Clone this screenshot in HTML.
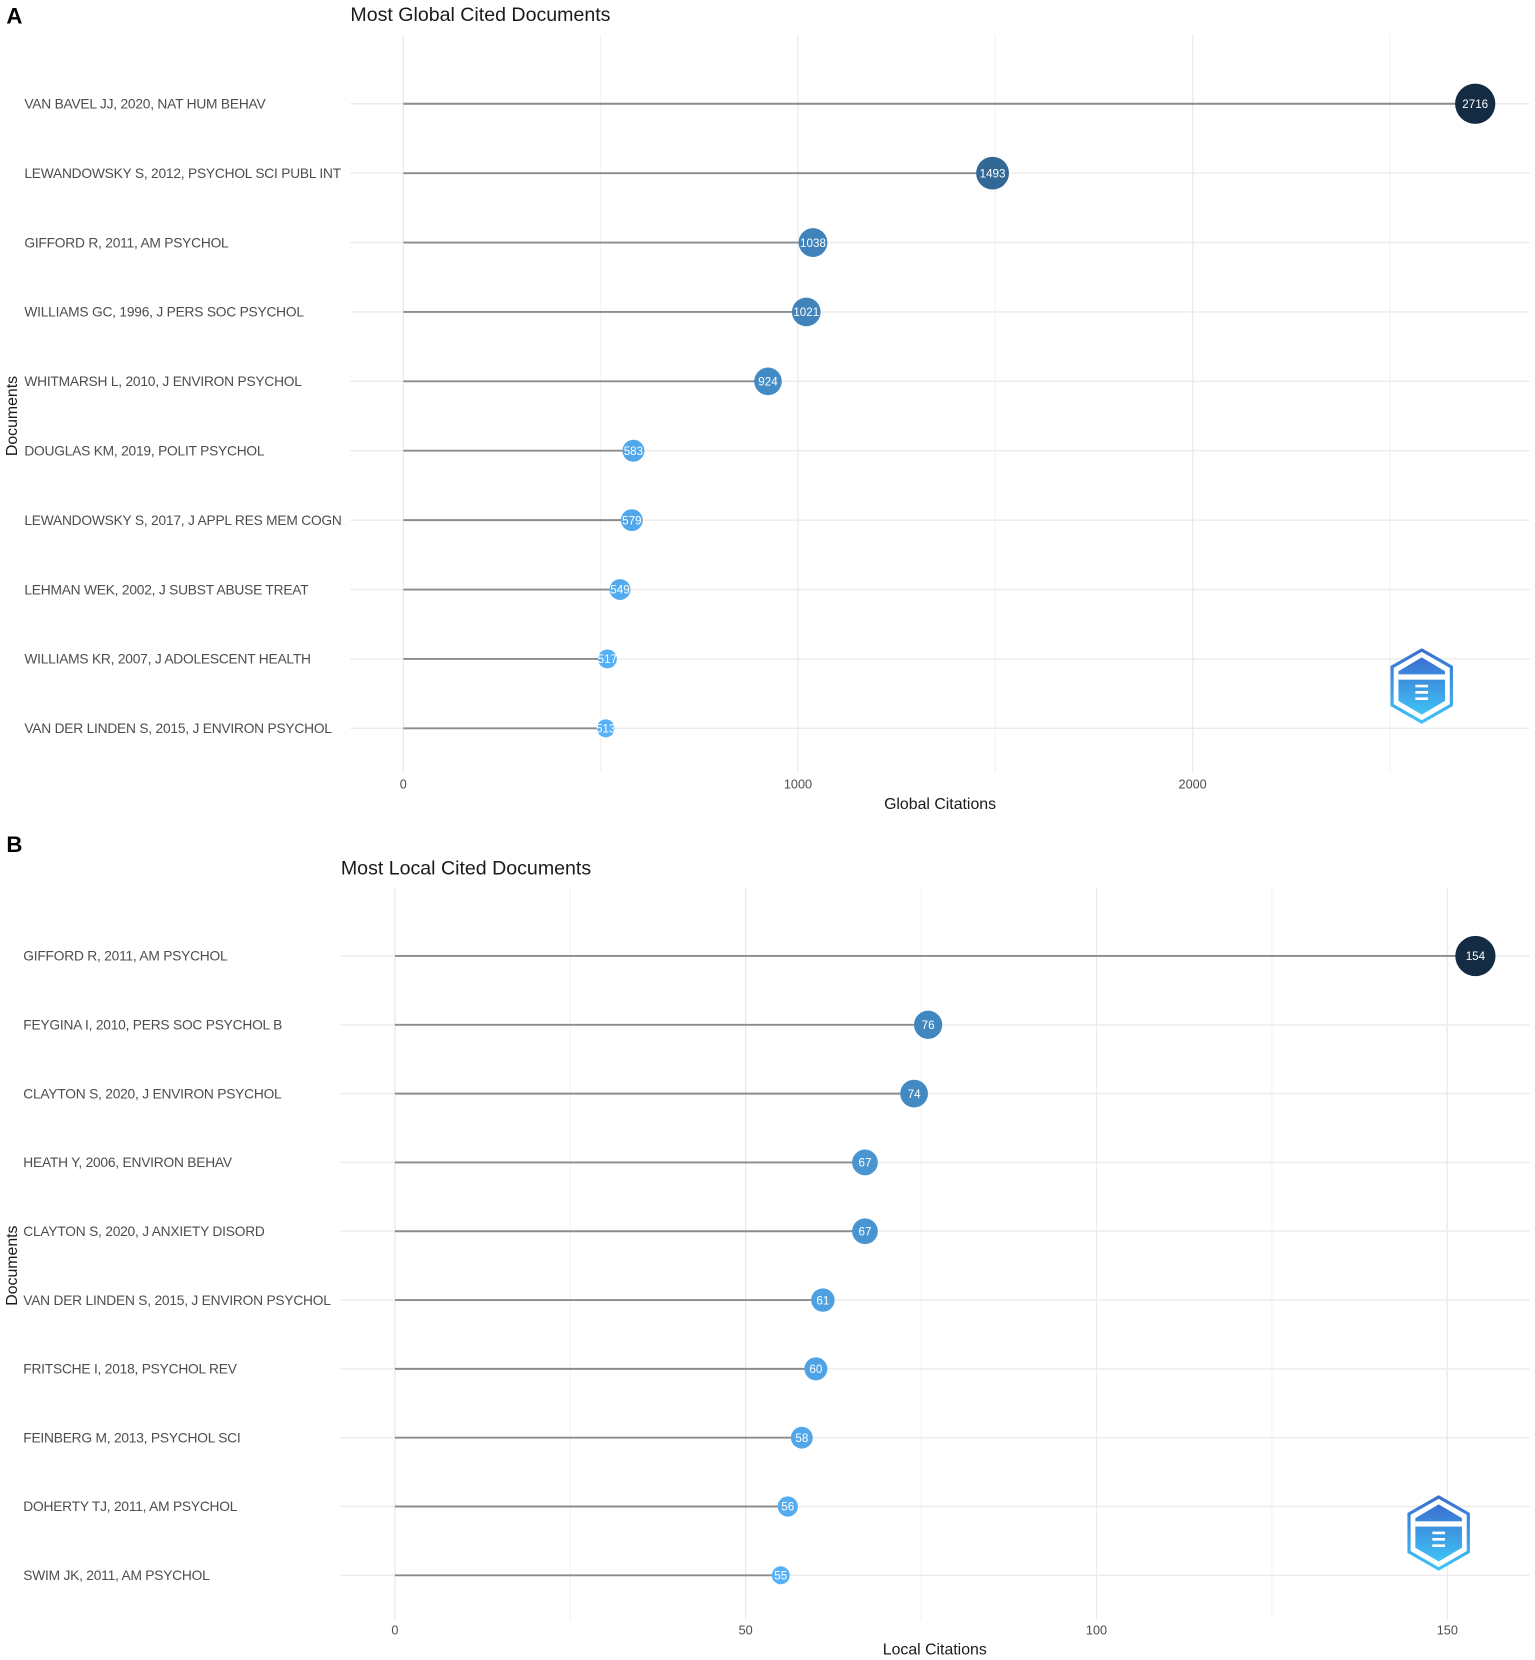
<!DOCTYPE html>
<html><head><meta charset="utf-8">
<style>
html,body{margin:0;padding:0;background:#fff;}
svg{display:block;font-family:"Liberation Sans",sans-serif;}
</style></head>
<body>
<svg id="chart" width="1535" height="1660" viewBox="0 0 1450 1568" preserveAspectRatio="none">
<defs><linearGradient id="lgrad" x1="0" y1="0" x2="0" y2="1"><stop offset="0" stop-color="#3b6fd0"/><stop offset="1" stop-color="#3fc3f5"/></linearGradient></defs>
</svg>
<script>
const globalDocs = ["VAN BAVEL JJ, 2020, NAT HUM BEHAV","LEWANDOWSKY S, 2012, PSYCHOL SCI PUBL INT","GIFFORD R, 2011, AM PSYCHOL","WILLIAMS GC, 1996, J PERS SOC PSYCHOL","WHITMARSH L, 2010, J ENVIRON PSYCHOL","DOUGLAS KM, 2019, POLIT PSYCHOL","LEWANDOWSKY S, 2017, J APPL RES MEM COGN","LEHMAN WEK, 2002, J SUBST ABUSE TREAT","WILLIAMS KR, 2007, J ADOLESCENT HEALTH","VAN DER LINDEN S, 2015, J ENVIRON PSYCHOL"];
const globalValues = [2716,1493,1038,1021,924,583,579,549,517,513];
const globalTicks = [0,1000,2000];
const localDocs = ["GIFFORD R, 2011, AM PSYCHOL","FEYGINA I, 2010, PERS SOC PSYCHOL B","CLAYTON S, 2020, J ENVIRON PSYCHOL","HEATH Y, 2006, ENVIRON BEHAV","CLAYTON S, 2020, J ANXIETY DISORD","VAN DER LINDEN S, 2015, J ENVIRON PSYCHOL","FRITSCHE I, 2018, PSYCHOL REV","FEINBERG M, 2013, PSYCHOL SCI","DOHERTY TJ, 2011, AM PSYCHOL","SWIM JK, 2011, AM PSYCHOL"];
const localValues = [154,76,74,67,67,61,60,58,56,55];
const localTicks = [0,50,100,150];

const NS="http://www.w3.org/2000/svg";
const svg=document.getElementById('chart');
function mk(tag,attrs,parent){const e=document.createElementNS(NS,tag);for(const k in attrs)e.setAttribute(k,attrs[k]);(parent||svg).appendChild(e);return e;}
function lerp(a,b,t){return Math.round(a+(b-a)*t);}
function color(t){
  const lo=[0x56,0xb1,0xf7],hi=[0x13,0x2b,0x43];
  return `rgb(${lerp(lo[0],hi[0],t)},${lerp(lo[1],hi[1],t)},${lerp(lo[2],hi[2],t)})`;}

function panel(o){
  const g=mk('g',{});
  
  
  const x=v=>o.x0+v*o.pxPer;
  const y=i=>o.yTop+i*o.step;
  const letter=mk('text',{x:6,y:o.letterY,'font-size':21,'font-weight':'bold',fill:'#000'},g);letter.textContent=o.letter;
  
  const t=mk('text',{x:o.titleX,y:o.titleY,'font-size':18.5,fill:'#1a1a1a'},g);t.textContent=o.title;
  
  const gTop=o.yTop-65, gBot=y(o.docs.length-1)+42;
  for(let i=0;i<o.ticks.length;i++){
    const mv=o.ticks[i]+o.tickStep/2;
    if(x(mv)<o.gridRight) mk('line',{x1:x(mv),x2:x(mv),y1:gTop,y2:gBot,stroke:'#f2f2f2','stroke-width':1},g);
  }
  o.ticks.forEach(v=>{
    mk('line',{x1:x(v),x2:x(v),y1:gTop,y2:gBot,stroke:'#ebebeb','stroke-width':1.3},g);
    const tl=mk('text',{x:x(v),y:o.tickY,'font-size':12,fill:'#4d4d4d','text-anchor':'middle'},g);tl.textContent=v;
    
  });
  o.docs.forEach((d,i)=>{
    mk('line',{x1:o.gridLeft,x2:o.gridRight,y1:y(i),y2:y(i),stroke:'#ebebeb','stroke-width':1.3},g);
    const lab=mk('text',{x:o.labelX,y:y(i)+4.5,'font-size':13,fill:'#4d4d4d','letter-spacing':'-0.2'},g);lab.textContent=d;
    
  });
  const max=Math.max(...o.vals),min=Math.min(...o.vals);
  o.vals.forEach((v,i)=>{
    const seg=mk('line',{x1:x(0),x2:x(v),y1:y(i),y2:y(i),stroke:'#8c8c8c','stroke-width':1.8},g);
    
    const t=(v-min)/(max-min);
    const r=8.5+10.5*Math.sqrt(t);
    const c=mk('circle',{cx:x(v),cy:y(i),r:r,fill:color(Math.pow(t,0.75))},g);
    
    const vl=mk('text',{x:x(v),y:y(i)+4,'font-size':11,fill:'#fff','text-anchor':'middle'},g);vl.textContent=v;
    
  });
  const xt=mk('text',{x:o.axisTitleX,y:o.axisTitleY,'font-size':15,fill:'#1a1a1a','text-anchor':'middle'},g);xt.textContent=o.xTitle;
  
  const cy=(o.yTop+y(o.docs.length-1))/2;
  const yt=mk('text',{x:16,y:cy,'font-size':15,fill:'#1a1a1a','text-anchor':'middle',transform:`rotate(-90 16 ${cy})`},g);yt.textContent='Documents';
  
  const lg=mk('g',{transform:`translate(${o.logoX},${o.logoY})`},g);
  
  mk('polygon',{points:'0,-34 28,-18 28,18 0,34 -28,18 -28,-18',fill:'#fff',stroke:'url(#lgrad)','stroke-width':3},lg);
  mk('polygon',{points:'0,-27 22,-14 22,14 0,27 -22,14 -22,-14',fill:'url(#lgrad)'},lg);
  mk('rect',{x:-22,y:-11,width:44,height:5,fill:'#fff'},lg);
  mk('path',{d:'M-6,0 h12 M-6,6 h12 M-6,12 h12',stroke:'#fff','stroke-width':2.5},lg);
}

panel({name:'global-cited-panel',letter:'A',letterY:22,title:'Most Global Cited Documents',titleX:331,titleY:20,
  docs:globalDocs,vals:globalValues,ticks:globalTicks,tickStep:1000,x0:381,pxPer:0.3728,yTop:98,step:65.55,
  gridLeft:331,gridRight:1445,labelX:23,tickY:745,axisTitleX:888,axisTitleY:764,xTitle:'Global Citations',logoX:1343,logoY:648});
panel({name:'local-cited-panel',letter:'B',letterY:805,title:'Most Local Cited Documents',titleX:322,titleY:826,
  docs:localDocs,vals:localValues,ticks:localTicks,tickStep:50,x0:373,pxPer:6.628,yTop:903,step:65,
  gridLeft:322,gridRight:1445,labelX:22,tickY:1544,axisTitleX:883,axisTitleY:1563,xTitle:'Local Citations',logoX:1359,logoY:1448});
</script>
</body></html>
